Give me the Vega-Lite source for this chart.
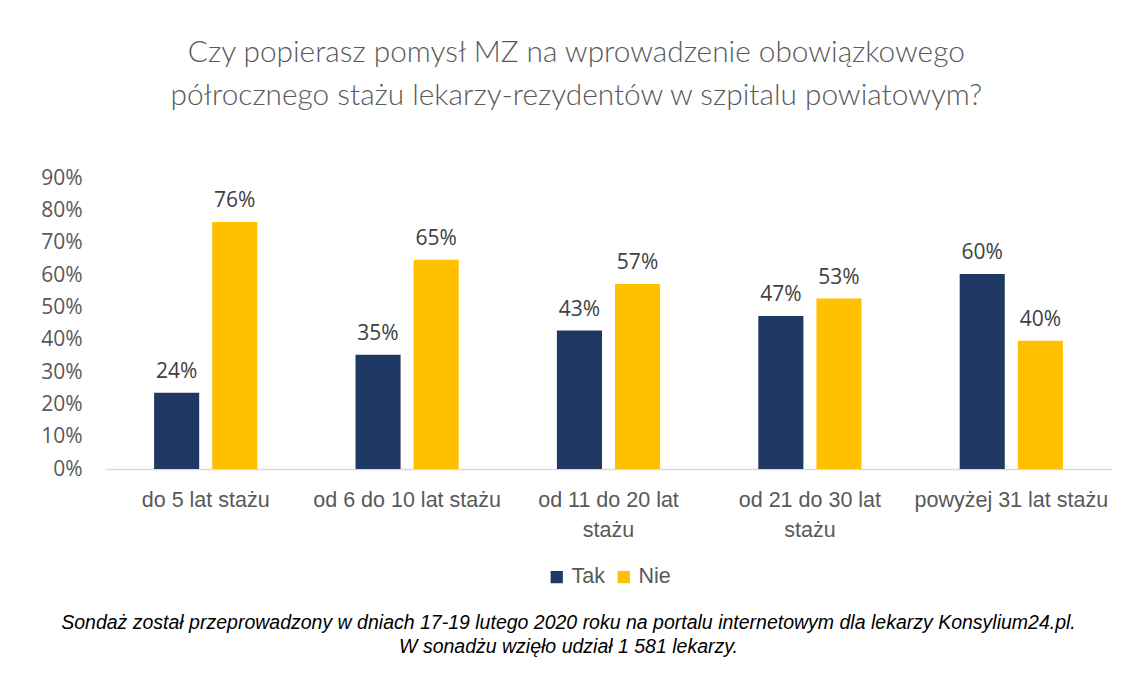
{
  "$schema": "https://vega.github.io/schema/vega-lite/v6.json",
  "padding": {"left": 40, "top": 38, "right": 20, "bottom": 10},
  "background": "white",
  "title": {
    "text": ["Czy popierasz pomysł MZ na wprowadzenie obowiązkowego", "półrocznego stażu lekarzy-rezydentów w szpitalu powiatowym?"],
    "font": "Lato", "fontWeight": 300, "fontSize": 29.8, "color": "#595959",
    "lineHeight": 43, "anchor": "middle", "offset": 56
  },
  "resolve": {"scale": {"color": "independent"}, "legend": {"color": "independent"}},
  "vconcat": [
    {
      "width": 1007,
      "height": 291,
      "title": {
        "text": ["Sondaż został przeprowadzony w dniach 17-19 lutego 2020 roku na portalu internetowym dla lekarzy Konsylium24.pl.", "W sonadżu wzięło udział 1 581 lekarzy."],
        "orient": "bottom", "anchor": "middle", "font": "Liberation Sans", "fontStyle": "italic",
        "fontWeight": "normal", "fontSize": 19.5, "color": "#000000", "lineHeight": 24, "offset": 26, "dx": -40
      },
      "data": {
        "values": [
          {"grupa": "do 5 lat stażu", "odp": "Tak", "wartosc": 0.236},
          {"grupa": "do 5 lat stażu", "odp": "Nie", "wartosc": 0.764},
          {"grupa": "od 6 do 10 lat stażu", "odp": "Tak", "wartosc": 0.353},
          {"grupa": "od 6 do 10 lat stażu", "odp": "Nie", "wartosc": 0.647},
          {"grupa": "od 11 do 20 lat stażu", "odp": "Tak", "wartosc": 0.428},
          {"grupa": "od 11 do 20 lat stażu", "odp": "Nie", "wartosc": 0.572},
          {"grupa": "od 21 do 30 lat stażu", "odp": "Tak", "wartosc": 0.473},
          {"grupa": "od 21 do 30 lat stażu", "odp": "Nie", "wartosc": 0.527},
          {"grupa": "powyżej 31 lat stażu", "odp": "Tak", "wartosc": 0.603},
          {"grupa": "powyżej 31 lat stażu", "odp": "Nie", "wartosc": 0.397}
        ]
      },
      "encoding": {
        "x": {
          "field": "grupa", "type": "nominal", "sort": null,
          "scale": {"paddingInner": 0, "paddingOuter": 0},
          "axis": {
            "title": null, "labelAngle": 0, "ticks": false,
            "domainColor": "#D9D9D9", "domainWidth": 1.5,
            "labelFont": "Liberation Sans", "labelFontSize": 21.5, "labelColor": "#595959",
            "labelPadding": 20, "labelLineHeight": 30, "labelLimit": 300,
            "labelExpr": "datum.value == 'od 11 do 20 lat stażu' ? ['od 11 do 20 lat', 'stażu'] : datum.value == 'od 21 do 30 lat stażu' ? ['od 21 do 30 lat', 'stażu'] : datum.value"
          }
        },
        "xOffset": {
          "field": "odp", "type": "nominal", "sort": ["Tak", "Nie"],
          "scale": {"paddingInner": 0.224, "paddingOuter": 0.845}
        },
        "y": {
          "field": "wartosc", "type": "quantitative",
          "scale": {"domain": [0, 0.9]},
          "axis": {
            "title": null, "values": [0, 0.1, 0.2, 0.3, 0.4, 0.5, 0.6, 0.7, 0.8, 0.9],
            "format": ".0%", "grid": false, "domain": false, "ticks": false,
            "labelFont": "Open Sans", "labelFontSize": 21, "labelColor": "#595959", "labelPadding": 23
          }
        }
      },
      "layer": [
        {
          "mark": {"type": "bar"},
          "encoding": {
            "color": {
              "field": "odp", "type": "nominal",
              "scale": {"domain": ["Tak", "Nie"], "range": ["#203864", "#FFC000"]},
              "legend": {
                "title": null, "orient": "bottom", "direction": "horizontal",
                "symbolType": "square", "symbolSize": 150, "symbolStrokeWidth": 0,
                "labelFont": "Liberation Sans", "labelFontSize": 21.5, "labelColor": "#595959",
                "columnPadding": 8, "labelOffset": 4, "offset": 25
              }
            }
          }
        },
        {
          "mark": {"type": "text", "baseline": "bottom", "dy": -11, "font": "Open Sans", "fontSize": 21, "color": "#404040"},
          "encoding": {
            "text": {"field": "wartosc", "type": "quantitative", "format": ".0%"}
          }
        }
      ]
    }
  ],
  "config": {
    "view": {"stroke": null},
    "legend": {"layout": {"bottom": {"anchor": "middle"}}}
  }
}
